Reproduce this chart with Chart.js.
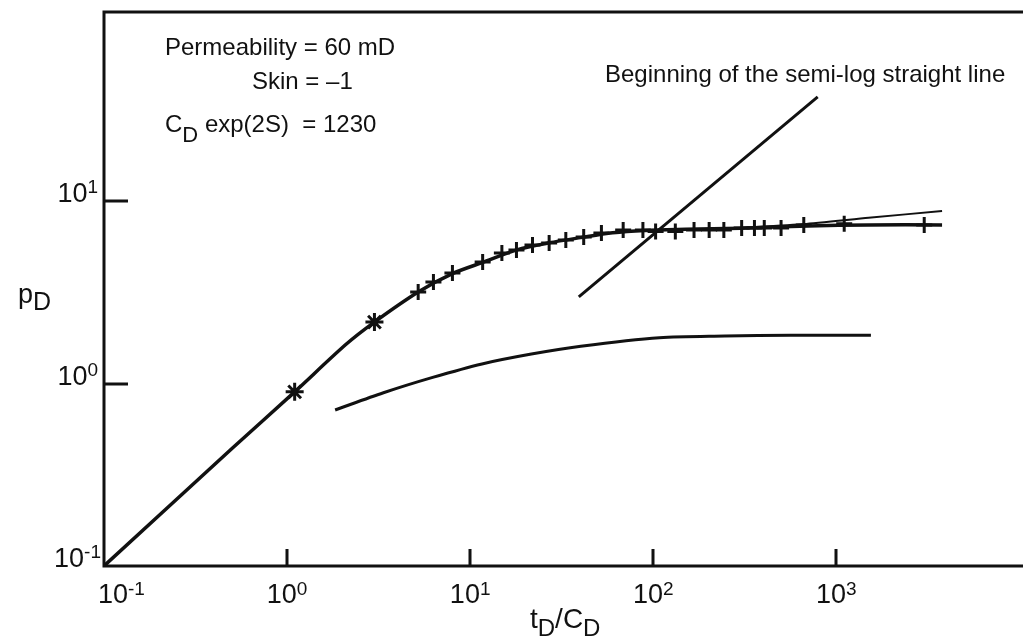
<!DOCTYPE html>
<html>
<head>
<meta charset="UTF-8">
<title>Type curve match</title>
<script src="https://cdn.jsdelivr.net/npm/chart.js"></script>
<style>
  body { margin: 0; background: #fff; }
  canvas { display: block; }
</style>
</head>
<body>
<canvas id="typeCurve" width="1023" height="637"></canvas>
<script>
// --- data (tD/CD vs pD, log-log) ---
const curveX = [0.1, 0.5, 1.1, 2.1, 3.0, 5.2, 8, 12, 18, 27, 40, 60, 90, 150, 300, 700, 1500, 3780];
const curveY = [0.1, 0.44, 0.9, 1.64, 2.17, 3.17, 4.0, 4.65, 5.4, 5.9, 6.3, 6.7, 6.9, 7.0, 7.1, 7.3, 7.4, 7.4];

const starX = [1.1, 3.0];
const starY = [0.9, 2.17];

const crossX = [5.2, 6.3, 8.0, 11.7, 14.9, 17.9, 21.9, 27, 33.3, 41.7, 52.1, 68.5, 87.8,
                103, 132, 167, 202, 243, 304, 357, 404, 499, 664, 1104, 3020];
const crossY = [3.17, 3.6, 4.03, 4.63, 5.19, 5.39, 5.74, 5.89, 6.11, 6.35, 6.68, 6.94, 6.94,
                6.8, 6.8, 6.94, 6.94, 6.94, 7.11, 7.11, 7.11, 7.11, 7.4, 7.5, 7.38];

const upperX = [300, 664, 1500, 3780];
const upperY = [7.11, 7.48, 8.1, 8.81];

const semiLogX = [39.2, 791];
const semiLogY = [2.98, 37.2];

const lowerX = [1.83, 3.36, 6.24, 11.6, 21.6, 40.2, 108, 246, 565, 1545];
const lowerY = [0.716, 0.89, 1.08, 1.28, 1.45, 1.60, 1.78, 1.82, 1.84, 1.84];

const xTicks = [0.1, 1, 10, 100, 1000];
const xTickExp = ['-1', '0', '1', '2', '3'];
const yTicks = [0.1, 1, 10];
const yTickExp = ['-1', '0', '1'];

const ink = '#111';
const FONT = '"Liberation Sans", Arial, Helvetica, sans-serif';

function pts(xs, ys) {
  return xs.map((x, i) => ({ x: x, y: ys[i] }));
}

// draws text pieces one after another; each piece is [text, size, dy]
function drawRun(ctx, x, y, pieces) {
  let cx = x;
  pieces.forEach(p => {
    ctx.font = p[1] + 'px ' + FONT;
    ctx.fillText(p[0], cx, y + p[2]);
    cx += ctx.measureText(p[0]).width;
  });
  return cx;
}
function runWidth(ctx, pieces) {
  let w = 0;
  pieces.forEach(p => { ctx.font = p[1] + 'px ' + FONT; w += ctx.measureText(p[0]).width; });
  return w;
}

const framePlugin = {
  id: 'frame',
  afterDraw(chart) {
    const ctx = chart.ctx, a = chart.chartArea;
    const xs = chart.scales.x, ys = chart.scales.y;
    ctx.save();
    ctx.strokeStyle = ink;
    ctx.fillStyle = ink;
    ctx.lineWidth = 3;
    ctx.lineCap = 'square';

    // frame: top, left, bottom (right side is cut off)
    ctx.beginPath();
    ctx.moveTo(chart.width, a.top);
    ctx.lineTo(a.left, a.top);
    ctx.lineTo(a.left, a.bottom);
    ctx.lineTo(chart.width, a.bottom);
    ctx.stroke();

    // inward tick marks at decades
    ctx.lineCap = 'butt';
    ctx.beginPath();
    xTicks.forEach((v, i) => {
      if (i === 0) return;
      const px = Math.round(xs.getPixelForValue(v));
      ctx.moveTo(px, a.bottom);
      ctx.lineTo(px, a.bottom - 17);
    });
    yTicks.forEach((v, i) => {
      if (i === 0) return;
      const py = Math.round(ys.getPixelForValue(v));
      ctx.moveTo(a.left, py);
      ctx.lineTo(a.left + 24, py);
    });
    ctx.stroke();

    // tick labels 10^n
    ctx.textBaseline = 'alphabetic';
    ctx.textAlign = 'left';
    xTicks.forEach((v, i) => {
      const px = xs.getPixelForValue(v);
      const pieces = [['10', 27, 0], [xTickExp[i], 19, -8]];
      const w = runWidth(ctx, pieces);
      const left = i === 0 ? px - 6 : px - w / 2;
      drawRun(ctx, left, a.bottom + 37, pieces);
    });
    yTicks.forEach((v, i) => {
      const py = ys.getPixelForValue(v);
      const pieces = [['10', 27, 0], [yTickExp[i], 19, -9]];
      const w = runWidth(ctx, pieces);
      const right = i === 0 ? a.left - 3 : a.left - 6;
      drawRun(ctx, right - w, py + 1, pieces);
    });

    // axis titles
    drawRun(ctx, 18, 303, [['p', 27, 0], ['D', 25, 7]]);
    drawRun(ctx, 530, 628, [['t', 28, 0], ['D', 24, 8], ['/C', 28, 0], ['D', 24, 8]]);

    // annotations
    drawRun(ctx, 165, 55, [['Permeability = 60 mD', 24, 0]]);
    drawRun(ctx, 252, 89, [['Skin = \u20131', 24, 0]]);
    drawRun(ctx, 165, 132, [['C', 24, 0], ['D', 22, 10], [' exp(2S)  = 1230', 24, 0]]);
    drawRun(ctx, 605, 82, [['Beginning of the semi-log straight line', 24, 0]]);

    ctx.restore();
  }
};

const lineStyle = { showLine: true, pointRadius: 0, borderColor: ink, fill: false };

new Chart(document.getElementById('typeCurve'), {
  type: 'scatter',
  data: {
    datasets: [
      Object.assign({ label: 'model', data: pts(curveX, curveY), borderWidth: 3.5, tension: 0.3 }, lineStyle),
      Object.assign({ label: 'upper', data: pts(upperX, upperY), borderWidth: 2, tension: 0.2 }, lineStyle),
      Object.assign({ label: 'semi-log', data: pts(semiLogX, semiLogY), borderWidth: 3 }, lineStyle),
      Object.assign({ label: 'lower', data: pts(lowerX, lowerY), borderWidth: 3, tension: 0.3 }, lineStyle),
      { label: 'early data', data: pts(starX, starY), showLine: false, pointStyle: 'star',
        pointRadius: 9, borderWidth: 3, borderColor: ink, backgroundColor: ink },
      { label: 'data', data: pts(crossX, crossY), showLine: false, pointStyle: 'cross',
        pointRadius: 8, borderWidth: 3, borderColor: ink, backgroundColor: ink }
    ]
  },
  options: {
    responsive: false,
    animation: false,
    layout: { padding: { left: 104, top: 12, right: 0, bottom: 71 } },
    plugins: { legend: { display: false }, tooltip: { enabled: false } },
    scales: {
      x: { type: 'logarithmic', display: false, min: 0.1, max: 8995 },
      y: { type: 'logarithmic', display: false, min: 0.1, max: 108.6 }
    }
  },
  plugins: [framePlugin]
});
</script>
</body>
</html>
